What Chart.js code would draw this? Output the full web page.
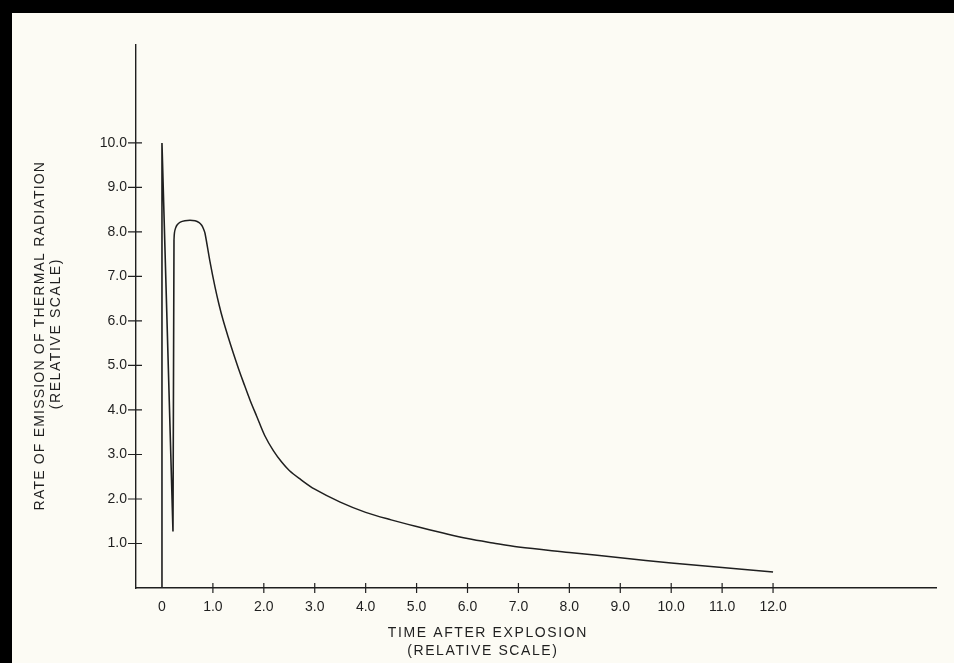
<!DOCTYPE html>
<html lang="en">
<head>
  <meta charset="UTF-8">
  <title>Rate of Emission of Thermal Radiation</title>
  <script src="https://cdn.jsdelivr.net/npm/chart.js"></script>
  <style>
    html, body {
      margin: 0;
      padding: 0;
      background: #000;
      overflow: hidden;
    }
    .sheet {
      position: absolute;
      left: 12px;
      top: 13px;
      width: 942px;
      height: 650px;
      background: #fcfbf4;
    }
  </style>
</head>
<body>
  <div class="sheet">
    <canvas id="radiationChart" width="942" height="650"></canvas>
  </div>

  <script>
    // Curve (time after explosion vs relative emission rate)
    const timeValues = [
      0, 0, 0.216, 0.236, 0.245, 0.265, 0.30, 0.36, 0.45, 0.55, 0.65, 0.73, 0.78, 0.815, 0.845,
      0.94, 1.04, 1.12, 1.20, 1.30, 1.40, 1.50, 1.60, 1.73, 1.86, 2.02, 2.19, 2.35, 2.50, 2.71,
      3.00, 3.50, 4.00, 4.50, 5.00, 5.50, 6.00, 6.50, 7.00, 8.00, 9.00, 10.00, 11.00, 12.00
    ];
    const emissionValues = [
      0, 10.0, 1.27, 7.82, 7.98, 8.08, 8.16, 8.22, 8.25, 8.26, 8.25, 8.21, 8.15, 8.07, 7.97,
      7.35, 6.77, 6.37, 6.02, 5.64, 5.28, 4.94, 4.62, 4.22, 3.86, 3.42, 3.08, 2.83, 2.64, 2.45,
      2.22, 1.93, 1.70, 1.53, 1.38, 1.24, 1.11, 1.01, 0.92, 0.80, 0.68, 0.56, 0.46, 0.36
    ];
    // first flash (straight strokes) ends where the second pulse begins
    const firstPulseEnd = 3;

    const xTickValues = [0, 1, 2, 3, 4, 5, 6, 7, 8, 9, 10, 11, 12];
    const xTickLabels = ['0', '1.0', '2.0', '3.0', '4.0', '5.0', '6.0', '7.0', '8.0', '9.0', '10.0', '11.0', '12.0'];
    const yTickValues = [1, 2, 3, 4, 5, 6, 7, 8, 9, 10];
    const yTickLabels = ['1.0', '2.0', '3.0', '4.0', '5.0', '6.0', '7.0', '8.0', '9.0', '10.0'];

    const xTitleLines = ['TIME AFTER EXPLOSION', '(RELATIVE SCALE)'];
    const yTitleLines = ['RATE OF EMISSION OF THERMAL RADIATION', '(RELATIVE SCALE)'];

    const ink = '#1f1f1f';
    const labelFont = '14px "Liberation Sans", Arial, sans-serif';

    const points = timeValues.map((t, i) => ({ x: t, y: emissionValues[i] }));
    const flashPoints = points.slice(0, firstPulseEnd + 1);
    const pulsePoints = points.slice(firstPulseEnd);

    // tick marks crossing the axis lines, like the hand drawn original
    const crossTicks = {
      id: 'crossTicks',
      afterDraw(chart) {
        const { ctx, chartArea, scales } = chart;
        ctx.save();
        ctx.strokeStyle = ink;
        ctx.lineWidth = 1.2;
        ctx.beginPath();
        xTickValues.forEach(v => {
          if (v === 0) return; // the curve itself sits on zero
          const px = scales.x.getPixelForValue(v);
          ctx.moveTo(px, chartArea.bottom - 5);
          ctx.lineTo(px, chartArea.bottom + 5);
        });
        yTickValues.forEach(v => {
          const py = scales.y.getPixelForValue(v);
          ctx.moveTo(chartArea.left - 8, py);
          ctx.lineTo(chartArea.left + 6, py);
        });
        ctx.stroke();
        ctx.restore();
      }
    };

    // axis titles, set off centre the way the lettering was placed
    const axisTitles = {
      id: 'axisTitles',
      afterDraw(chart) {
        const { ctx, chartArea, scales } = chart;
        ctx.save();
        ctx.fillStyle = ink;
        ctx.font = labelFont;
        ctx.textAlign = 'center';
        ctx.textBaseline = 'middle';
        ctx.letterSpacing = '1.6px';

        const cx = scales.x.getPixelForValue(6.4);
        ctx.fillText(xTitleLines[0], cx, chartArea.bottom + 45);
        ctx.fillText(xTitleLines[1], cx - 5, chartArea.bottom + 63);

        const cy = scales.y.getPixelForValue(5.67);
        ctx.translate(28, cy);
        ctx.rotate(-Math.PI / 2);
        ctx.letterSpacing = '1.2px';
        ctx.fillText(yTitleLines[0], 0, 0);
        ctx.letterSpacing = '1.6px';
        ctx.fillText(yTitleLines[1], 2, 16);
        ctx.restore();
      }
    };

    new Chart(document.getElementById('radiationChart'), {
      type: 'line',
      data: {
        datasets: [{
          data: flashPoints,
          borderColor: ink,
          borderWidth: 1.6,
          pointRadius: 0,
          tension: 0,
          fill: false
        }, {
          data: pulsePoints,
          borderColor: ink,
          borderWidth: 1.5,
          pointRadius: 0,
          tension: 0.35,
          fill: false
        }]
      },
      options: {
        responsive: false,
        animation: false,
        layout: {
          padding: { left: 0, top: 32, right: 18, bottom: 0 }
        },
        plugins: {
          legend: { display: false },
          tooltip: { enabled: false }
        },
        scales: {
          x: {
            type: 'linear',
            min: -0.51,
            max: 15.2,
            afterBuildTicks: scale => {
              scale.ticks = xTickValues.map(v => ({ value: v }));
            },
            afterFit: scale => { scale.height = 75; },
            grid: { display: false, drawTicks: false },
            border: { display: true, color: ink, width: 1.4 },
            ticks: {
              padding: 11,
              color: ink,
              font: { family: '"Liberation Sans", Arial, sans-serif', size: 14 },
              maxRotation: 0,
              autoSkip: false,
              callback: value => xTickLabels[xTickValues.indexOf(value)]
            }
          },
          y: {
            type: 'linear',
            min: 0,
            max: 12.2,
            afterBuildTicks: scale => {
              scale.ticks = yTickValues.map(v => ({ value: v }));
            },
            afterFit: scale => { scale.width = 124; },
            grid: { display: false, drawTicks: false },
            border: { display: true, color: ink, width: 1.4 },
            ticks: {
              padding: 9,
              color: ink,
              font: { family: '"Liberation Sans", Arial, sans-serif', size: 14 },
              autoSkip: false,
              callback: value => yTickLabels[yTickValues.indexOf(value)]
            }
          }
        }
      },
      plugins: [crossTicks, axisTitles]
    });
  </script>
</body>
</html>
